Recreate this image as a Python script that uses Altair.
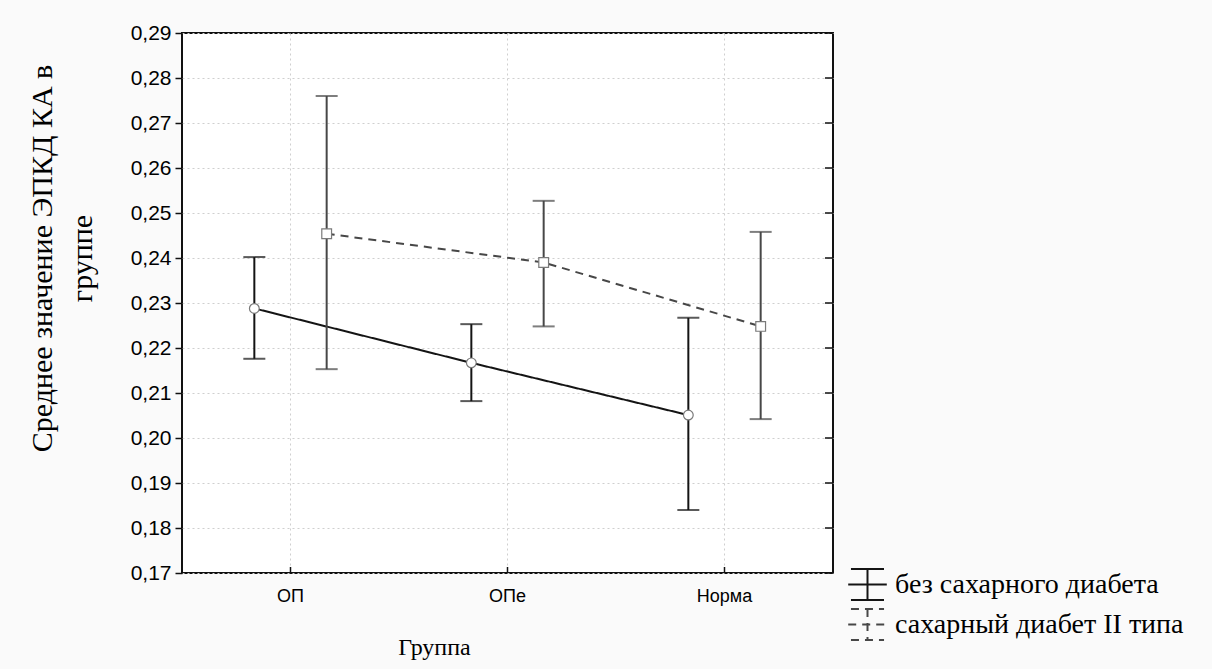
import altair as alt
import pandas as pd

categories = ["ОП", "ОПе", "Норма"]
series = ["без сахарного диабета", "сахарный диабет II типа"]

mean_a = [0.2288, 0.2167, 0.2051]
lo_a = [0.2176, 0.2082, 0.1840]
hi_a = [0.2402, 0.2253, 0.2267]

mean_b = [0.2454, 0.2390, 0.2248]
lo_b = [0.2153, 0.2248, 0.2042]
hi_b = [0.2760, 0.2527, 0.2458]

y_ticks = [0.17, 0.18, 0.19, 0.20, 0.21, 0.22, 0.23, 0.24, 0.25, 0.26, 0.27, 0.28, 0.29]

rows = []
for s, m, lo, hi in [(series[0], mean_a, lo_a, hi_a), (series[1], mean_b, lo_b, hi_b)]:
    for g, mv, l, h in zip(categories, m, lo, hi):
        rows.append({"group": g, "series": s, "mean": mv, "lo": l, "hi": h})
df = pd.DataFrame(rows)

W, H = 651, 540
series_colors = ["#141414", "#474747"]

x_enc = alt.X(
    "group:N", sort=categories,
    scale=alt.Scale(paddingInner=0, paddingOuter=0),
    axis=alt.Axis(
        title="Группа", bandPosition=0.5, labelAngle=0,
        labelFont="Liberation Sans", labelFontSize=18, labelColor="#000",
        labelPadding=14, ticks=False, domain=False,
        grid=True, gridColor="#cfcfcf", gridDash=[2, 3], gridWidth=1,
        titleFont="Liberation Serif", titleFontSize=24, titleFontWeight="normal",
        titleColor="#000", titleX=252, titleY=74, titleBaseline="middle",
        titleAlign="center",
    ),
)
xo_enc = alt.XOffset("series:N", sort=series, scale=alt.Scale(type="point", padding=3))
color_scale = alt.Scale(domain=series, range=series_colors)

y_scale = alt.Scale(domain=[0.17, 0.29], nice=False, zero=False)
y_axis = alt.Axis(
    values=y_ticks,
    labelExpr="replace(format(datum.value, '.2f'), '.', ',')",
    labelFont="Liberation Sans", labelFontSize=21, labelColor="#000",
    labelPadding=4, tickSize=7, tickColor="#111", tickWidth=1.5, domain=False,
    grid=True, gridColor="#cfcfcf", gridDash=[2, 3], gridWidth=1,
    title=["Среднее значение  ЭПКД КА в", "группе"],
    titleFont="Liberation Serif", titleFontSize=30, titleFontWeight="normal",
    titleColor="#000", titleAngle=-90, titleX=-140, titleY=225,
    titleAlign="center", titleBaseline="middle", titleLineHeight=40,
)

glyph = "M-0.9,-0.85H0.9M0,-0.85V0.85M-0.9,0.85H0.9M-1.05,0H1.05"
legend = alt.Legend(
    title=None, symbolType=glyph,
    symbolSize=1350, symbolStrokeWidth=2, symbolFillColor="transparent",
)

base = alt.Chart(df)

lines = base.mark_line(strokeWidth=2).encode(
    x=x_enc, xOffset=xo_enc,
    y=alt.Y("mean:Q", scale=y_scale, axis=y_axis),
    stroke=alt.Stroke("series:N", scale=color_scale, sort=series, legend=legend),
    strokeDash=alt.StrokeDash("series:N", sort=series,
                              scale=alt.Scale(domain=series, range=[[1, 0], [8, 6]]),
                              legend=legend),
)

bars = base.mark_rule(strokeWidth=2).encode(
    x=alt.X("group:N", sort=categories), xOffset=xo_enc,
    y="lo:Q", y2="hi:Q",
    stroke=alt.Stroke("series:N", scale=color_scale, sort=series, legend=None),
)

cap_color = alt.Color("capseries:N", sort=series,
                      scale=alt.Scale(range=series_colors), legend=None)
caps_hi = base.transform_calculate(capseries="datum.series").mark_tick(
    size=22, thickness=2, orient="horizontal").encode(
    x=alt.X("group:N", sort=categories), xOffset=xo_enc,
    y="hi:Q", color=cap_color,
)
caps_lo = base.transform_calculate(capseries="datum.series").mark_tick(
    size=22, thickness=2, orient="horizontal").encode(
    x=alt.X("group:N", sort=categories), xOffset=xo_enc,
    y="lo:Q", color=cap_color,
)

points = base.transform_calculate(marker="datum.series").mark_point(
    filled=True, fill="white", stroke="#7a7a7a",
    strokeWidth=1.2, size=95, opacity=1).encode(
    x=alt.X("group:N", sort=categories), xOffset=xo_enc,
    y="mean:Q",
    shape=alt.Shape("marker:N", sort=series,
                    scale=alt.Scale(range=["circle", "square"]),
                    legend=None),
)

tick_df = pd.DataFrame({"v": y_ticks})
right_ticks = alt.Chart(tick_df).mark_rule(color="#111", strokeWidth=1.5).encode(
    y="v:Q", x=alt.value(W - 8), x2=alt.value(W),
)
cat_df = pd.DataFrame({"group": categories})
bottom_ticks = alt.Chart(cat_df).mark_rule(color="#111", strokeWidth=1.5).encode(
    x=alt.X("group:N", sort=categories, bandPosition=0.5),
    y=alt.value(H), y2=alt.value(H - 6),
)

chart = alt.layer(lines, bars, caps_hi, caps_lo, points, right_ticks, bottom_ticks).properties(
    width=W, height=H,
    autosize=alt.AutoSizeParams(type="none"),
    padding={"left": 182, "top": 33, "right": 1212 - 182 - W, "bottom": 669 - 33 - H},
    background="#fafafa",
).configure_view(
    fill="white", stroke="#111", strokeWidth=2,
).configure_legend(
    orient="none", legendX=666, legendY=532,
    labelFont="Liberation Serif", labelFontSize=28, labelColor="#000",
    labelLimit=400, labelOffset=8, rowPadding=-4,
    symbolType=glyph,
)

chart.save("out.html", embed_options={"renderer": "svg", "actions": False})
